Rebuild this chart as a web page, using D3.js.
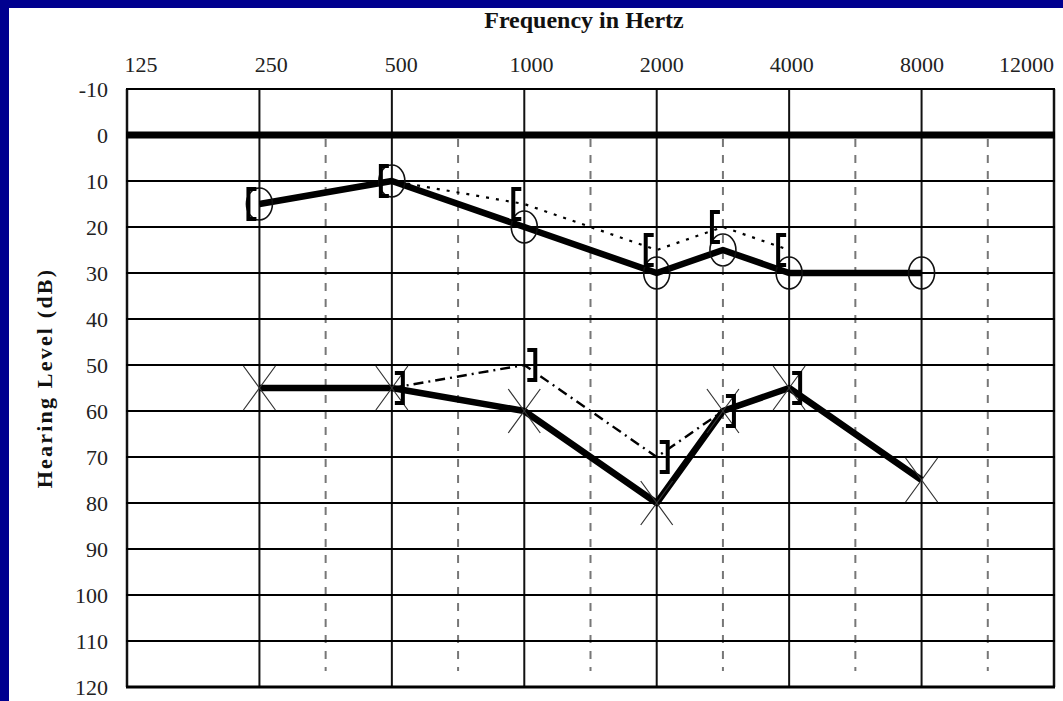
<!DOCTYPE html>
<html>
<head>
<meta charset="utf-8">
<script src="https://cdn.jsdelivr.net/npm/d3@7"></script>
<style>
  html, body { margin: 0; padding: 0; background: #00008f; }
  svg { display: block; }
</style>
</head>
<body>
<svg id="chart" width="1063" height="701"></svg>
<script>
// ---- data ----
const topLabels = [125, 250, 500, 1000, 2000, 4000, 8000, 12000];
const solidFreqs = [125, 250, 500, 1000, 2000, 4000, 8000, 16000];
const dashedFreqs = [375, 750, 1500, 3000, 6000, 12000];
const dbTicks = [-10, 0, 10, 20, 30, 40, 50, 60, 70, 80, 90, 100, 110, 120];

// Right ear air conduction (O)
const rightACFreq = [250, 500, 1000, 2000, 3000, 4000, 8000];
const rightACdB   = [15, 10, 20, 30, 25, 30, 30];
// Right ear bone conduction ([)
const rightBCFreq = [250, 500, 1000, 2000, 3000, 4000];
const rightBCdB   = [15, 10, 15, 25, 20, 25];
// Left ear air conduction (X)
const leftACFreq = [250, 500, 1000, 2000, 3000, 4000, 8000];
const leftACdB   = [55, 55, 60, 80, 60, 55, 75];
// Left ear bone conduction (])
const leftBCFreq = [500, 1000, 2000, 3000, 4000];
const leftBCdB   = [55, 50, 70, 60, 55];

// ---- layout ----
const svg = d3.select("#chart");
const W = 1063, H = 701;
const plot = { left: 127, right: 1054, top: 89, bottom: 687 };
const serif = "'Liberation Serif', 'Times New Roman', serif";

// audiogram position: octaves above 125 Hz, inter-octave freqs at half-octave
const pos = f => Math.round(2 * Math.log2(f / 125)) / 2;
const x = d3.scaleLinear().domain([0, 7]).range([plot.left, plot.right]);
const y = d3.scaleLinear().domain([-10, 120]).range([plot.top, plot.bottom]);
const labelX = d3.scaleLinear().domain([0, 6]).range([141, 922]);

// background
svg.append("rect").attr("width", W).attr("height", H).attr("fill", "#00008f");
svg.append("rect").attr("x", 9).attr("y", 8).attr("width", W - 9).attr("height", H - 8).attr("fill", "#ffffff");

// title
svg.append("text")
  .attr("x", 584).attr("y", 28)
  .attr("text-anchor", "middle")
  .attr("font-family", serif).attr("font-weight", "bold").attr("font-size", 24)
  .attr("fill", "#111")
  .text("Frequency in Hertz");

// y-axis title
svg.append("text")
  .attr("transform", "translate(52,378) rotate(-90)")
  .attr("text-anchor", "middle")
  .attr("font-family", serif).attr("font-weight", "bold").attr("font-size", 22)
  .attr("letter-spacing", 2.2)
  .attr("fill", "#111")
  .text("Hearing Level (dB)");

// top frequency labels
svg.append("g").selectAll("text").data(topLabels).join("text")
  .attr("x", (d, i) => i < 7 ? labelX(i) : x(7))
  .attr("y", 64)
  .attr("text-anchor", (d, i) => i < 7 ? "middle" : "end")
  .attr("dominant-baseline", "central")
  .attr("font-family", serif).attr("font-size", 22)
  .attr("fill", "#222")
  .text(d => d);

// y tick labels via axis
const yAxis = svg.append("g")
  .attr("transform", `translate(108,0)`)
  .call(d3.axisLeft(y).tickValues(dbTicks).tickFormat(d => String(d)).tickSize(0).tickPadding(0));
yAxis.select(".domain").remove();
yAxis.selectAll("text")
  .attr("font-family", serif).attr("font-size", 22).attr("fill", "#222")
  .attr("dy", "0.35em").attr("x", 0);

// dashed verticals (inter-octave)
svg.append("g").selectAll("line").data(dashedFreqs).join("line")
  .attr("x1", d => x(pos(d))).attr("x2", d => x(pos(d)))
  .attr("y1", y(0) + 4).attr("y2", y(116.5))
  .attr("stroke", "#777").attr("stroke-width", 2)
  .attr("stroke-dasharray", "8,8");

// solid verticals
svg.append("g").selectAll("line").data(solidFreqs).join("line")
  .attr("x1", d => x(pos(d))).attr("x2", d => x(pos(d)))
  .attr("y1", y(-10)).attr("y2", y(120))
  .attr("stroke", "#111").attr("stroke-width", d => (d === 125 || d === 16000) ? 2.5 : 2);

// horizontal grid
svg.append("g").selectAll("line").data(dbTicks).join("line")
  .attr("x1", x(0) - 1).attr("x2", x(7) + 1)
  .attr("y1", d => y(d)).attr("y2", d => y(d))
  .attr("stroke", "#000")
  .attr("stroke-width", d => d === 0 ? 7 : (d === 120 ? 3 : 2.2));

const lineGen = d3.line().x(d => x(pos(d[0]))).y(d => y(d[1]));
const zip = (a, b) => a.map((v, i) => [v, b[i]]);

// bone conduction lines
svg.append("path").datum(zip(rightBCFreq, rightBCdB))
  .attr("d", lineGen).attr("fill", "none")
  .attr("stroke", "#000").attr("stroke-width", 2.2)
  .attr("stroke-dasharray", "3,7");
svg.append("path").datum(zip(leftBCFreq, leftBCdB))
  .attr("d", lineGen).attr("fill", "none")
  .attr("stroke", "#000").attr("stroke-width", 2.4)
  .attr("stroke-dasharray", "10,5,2,5");

// air conduction lines
svg.append("path").datum(zip(rightACFreq, rightACdB))
  .attr("d", lineGen).attr("fill", "none")
  .attr("stroke", "#000").attr("stroke-width", 6.5).attr("stroke-linejoin", "round");
svg.append("path").datum(zip(leftACFreq, leftACdB))
  .attr("d", lineGen).attr("fill", "none")
  .attr("stroke", "#000").attr("stroke-width", 6.5).attr("stroke-linejoin", "round");

// right AC circles
svg.append("g").selectAll("ellipse").data(zip(rightACFreq, rightACdB)).join("ellipse")
  .attr("cx", d => x(pos(d[0]))).attr("cy", d => y(d[1]))
  .attr("rx", 13).attr("ry", 16)
  .attr("fill", "none").attr("stroke", "#111").attr("stroke-width", 1.6);

// left AC crosses
const crosses = svg.append("g").selectAll("g").data(zip(leftACFreq, leftACdB)).join("g")
  .attr("transform", d => `translate(${x(pos(d[0]))},${y(d[1])})`);
crosses.append("path")
  .attr("d", "M-16,-22L16,22M-16,22L16,-22")
  .attr("stroke", "#333").attr("stroke-width", 1.2).attr("fill", "none");

// right BC brackets "["
svg.append("g").selectAll("path").data(zip(rightBCFreq, rightBCdB)).join("path")
  .attr("transform", d => `translate(${x(pos(d[0]))},${y(d[1])})`)
  .attr("d", "M-3,-15H-11V15H-3")
  .attr("fill", "none").attr("stroke", "#000").attr("stroke-width", 4);

// left BC brackets "]"
svg.append("g").selectAll("path").data(zip(leftBCFreq, leftBCdB)).join("path")
  .attr("transform", d => `translate(${x(pos(d[0]))},${y(d[1])})`)
  .attr("d", "M3,-15H11V15H3")
  .attr("fill", "none").attr("stroke", "#000").attr("stroke-width", 4);
</script>
</body>
</html>
